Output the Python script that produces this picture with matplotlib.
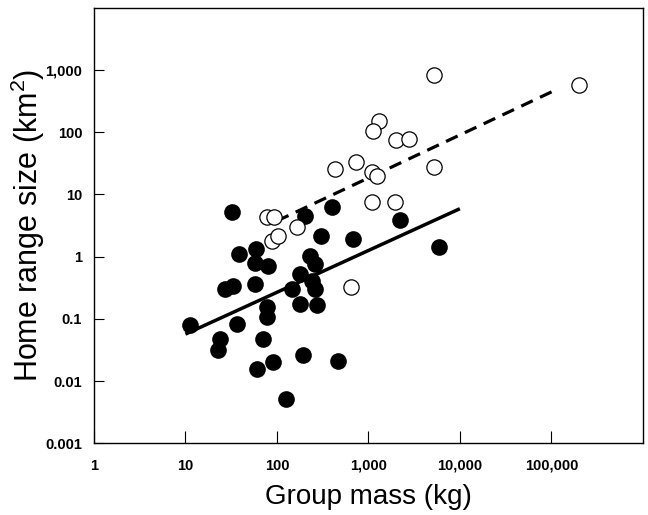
import matplotlib
matplotlib.use("Agg")
import matplotlib.pyplot as plt

plt.rcParams['font.family'] = ['Liberation Sans', 'DejaVu Sans']

# filled circles (group mass kg, home range km2)
filled_mass = [32.6, 204, 401, 304, 683, 2200, 5940, 38.6, 58.8, 57.8,
               80.9, 27.1, 33.4, 57.8, 232, 263, 180, 242, 263, 146,
               180, 275, 77.7, 77.7, 11.2, 36.4, 23.9, 22.9, 70.2, 60.3,
               89.9, 193, 463, 126]
filled_range = [5.13, 4.43, 6.39, 2.13, 1.93, 3.83, 1.42, 1.09, 1.31, 0.80,
                0.708, 0.301, 0.340, 0.362, 1.02, 0.754, 0.523, 0.409, 0.301, 0.301,
                0.174, 0.168, 0.154, 0.107, 0.0805, 0.0836, 0.0482, 0.0314, 0.0482, 0.0156,
                0.0207, 0.0261, 0.0210, 0.0052]

# open circles
open_mass = [1304, 1120, 1990, 2784, 724, 429, 1104, 1253, 5236, 1084,
             1954, 5157, 199300, 77.7, 93.4, 166, 88.2, 104, 638]
open_range = [153, 106, 75.7, 78.5, 33.3, 26.1, 23.1, 19.7, 27.7, 7.68,
              7.68, 830, 575, 4.33, 4.33, 2.96, 1.77, 2.13, 0.328]

# regression lines
solid_x = [10, 10000]
solid_y = [0.057, 5.9]
dash_x = [100, 110000]
dash_y = [3.75, 473]

x_ticks = [1, 10, 100, 1000, 10000, 100000]
x_labels = ['1', '10', '100', '1,000', '10,000', '100,000']
y_ticks = [0.001, 0.01, 0.1, 1, 10, 100, 1000]
y_labels = ['0.001', '0.01', '0.1', '1', '10', '100', '1,000']

fig = plt.figure(figsize=(6.48, 5.15), dpi=100)
ax = fig.add_axes([0.145, 0.139, 0.847, 0.846])

ax.plot(solid_x, solid_y, color='black', lw=2.5, solid_capstyle='butt', zorder=2)
ax.plot(dash_x, dash_y, color='black', lw=2.3, dashes=(4, 2.5), zorder=2)
ax.plot(filled_mass, filled_range, 'o', color='black', ms=12, mew=0, zorder=3)
ax.plot(open_mass, open_range, 'o', mfc='white', mec='black', ms=11, mew=0.9, zorder=3)

ax.set_xscale('log')
ax.set_yscale('log')
ax.set_xlim(1, 1e6)
ax.set_ylim(0.001, 1e4)
ax.minorticks_off()
ax.set_xticks(x_ticks)
ax.set_xticklabels(x_labels)
ax.set_yticks(y_ticks)
ax.set_yticklabels(y_labels)

ax.tick_params(axis='x', direction='in', length=9, width=0.8, pad=11,
               labelsize=10.5)
ax.tick_params(axis='y', direction='in', length=7, width=0.8, pad=8.5,
               labelsize=10.5)
for lab in ax.get_xticklabels() + ax.get_yticklabels():
    lab.set_fontweight('bold')
for sp in ax.spines.values():
    sp.set_linewidth(1.0)

ax.set_xlabel('Group mass (kg)', fontsize=20, labelpad=8)
ax.set_ylabel(r'Home range size (km$^\mathregular{2}$)', fontsize=22, labelpad=-1)

fig.savefig('out.png', dpi=100)
